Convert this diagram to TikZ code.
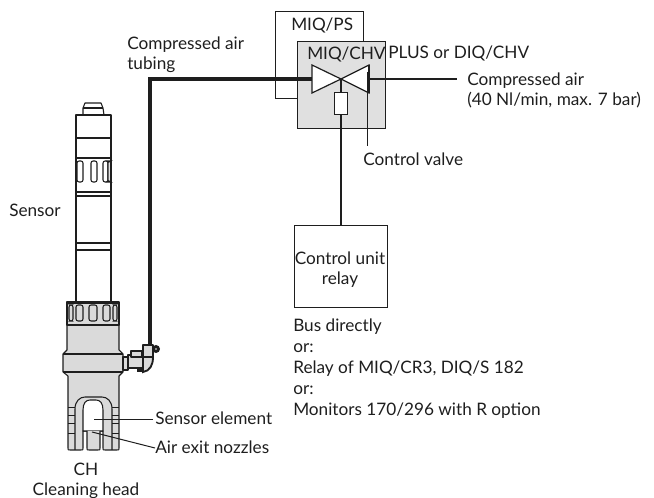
\documentclass[tikz,border=0pt]{standalone}
\usepackage{fontspec}
\setmainfont{Lato}
\definecolor{ink}{HTML}{1E1E1E}
\definecolor{boxgrey}{HTML}{E0E0E0}
\definecolor{bodygrey}{HTML}{DADADA}
\tikzset{
  lbl/.style={font=\fontsize{12.9pt}{15pt}\selectfont,text=ink,inner sep=0pt,align=left},
  wire/.style={draw=ink,line width=0.75pt},
  thickwire/.style={draw=ink,line width=3pt},
  midwire/.style={draw=ink,line width=1.5pt},
  boxline/.style={draw=ink,line width=0.9pt},
  sensorline/.style={draw=ink,line width=0.8pt,line join=round},
  heavy/.style={draw=ink,line width=1.2pt},
  slot/.style={draw=ink,line width=0.8pt,rounded corners=1.6pt,fill=white},
  stripe/.style={draw=ink,line width=0.7pt},
}
\begin{document}
\begin{tikzpicture}[x=0.75pt,y=-0.75pt]
\useasboundingbox (0,0) rectangle (654,498);
% ---------- Sensor ----------
\draw[sensorline] (83,108) -- (85,103) -- (101,103) -- (103,108) -- (104,115) -- (83,115) -- cycle;
\draw[sensorline] (83,108) -- (103,108);
\draw[sensorline] (76,115) rectangle (111,302);
\draw[heavy] (76,138) -- (111,138);
\draw[heavy] (76,158) -- (111,158);
\foreach \a/\b in {77/83,91/97,103/108,108/110.5}{\draw[slot] (\a,161) rectangle (\b,182);}
\draw[sensorline] (76,192) -- (111,192);
\draw[sensorline] (76,196) -- (111,196);
\draw[heavy] (76,243) -- (111,243);
\draw[heavy] (76,250) -- (111,250);
% lower body
\draw[sensorline,fill=bodygrey] (67,325) -- (119,325) -- (119,350) -- (123,354) -- (123,372) -- (119,376) -- (119,448) .. controls (119,450) .. (117,450) -- (105,450) .. controls (103,450) .. (103,448) -- (103,431) -- (83,431) -- (83,448) .. controls (83,450) .. (81,450) -- (70,450) .. controls (68,450) .. (68,448) -- (68,376) -- (63,372) -- (63,354) -- (67,350) -- cycle;
\draw[sensorline] (63,354) -- (123,354);
\draw[sensorline] (63,372) -- (123,372);
\draw[sensorline,fill=bodygrey] (67,302) rectangle (119,325);
\draw[heavy] (67,303) -- (119,303);
\draw[draw=ink,line width=1.6pt] (67,325) -- (119,325);
\foreach \a/\b in {69/73,76/83,89/97,103/110,113/117}{\draw[slot,fill=bodygrey] (\a,305) rectangle (\b,321);}
% cleaning head
\draw[sensorline] (75,450) -- (75,409) .. controls (75,401) and (80,397) .. (85,397) -- (102,397) .. controls (107,397) and (112,401) .. (112,409) -- (112,450);
\draw[sensorline,fill=white] (83,431) -- (83,410) .. controls (83,403) and (86,400) .. (90,400) -- (96,400) .. controls (100,400) and (103,403) .. (103,410) -- (103,431) -- cycle;
\draw[sensorline,fill=bodygrey] (87,431) -- (87,448) .. controls (87,450) .. (89,450) -- (98,450) .. controls (100,450) .. (100,448) -- (100,431);
\foreach \y in {407,415,423,433}{
  \draw[stripe] (68,\y) -- (75,\y);
  \draw[stripe] (112,\y) -- (119,\y);
}
% ---------- Fitting ----------
\draw[sensorline,fill=bodygrey] (123,357) rectangle (128,370);
\draw[sensorline,fill=bodygrey] (128,355) rectangle (143,368);
\draw[sensorline,fill=bodygrey] (131,351) rectangle (142,357);
\draw[sensorline,fill=bodygrey] (143,345) rectangle (153,357);
\draw[draw=ink,line width=1.4pt,fill=bodygrey] (143,357) -- (153,357) .. controls (153,365) and (150,371) .. (143,372) -- cycle;
\fill[ink] (137,368) rectangle (143,372);
\coordinate (fitting) at (150,345);
\fill[ink] (156,349) circle (3pt);
\fill[white] (156,349) circle (0.7pt);
% ---------- Boxes ----------
\node[boxline,minimum width=66pt,minimum height=65.25pt,inner sep=0pt,anchor=north west] (ps) at (275,11) {};
\node[boxline,fill=boxgrey,minimum width=66pt,minimum height=65.25pt,inner sep=0pt,anchor=north west] (chv) at (297,41) {};
\node[boxline,minimum width=69.75pt,minimum height=61.5pt,inner sep=0pt,anchor=north west] (unit) at (294,225) {};
\coordinate (vc) at (341,79);
\node[boxline,fill=white,minimum width=9.75pt,minimum height=16.5pt,inner sep=0pt,anchor=north] (solenoid) at (341,92) {};
% valve
\draw[boxline,fill=white,line join=miter] (312,65) -- (vc) -- (312,93) -- cycle;
\draw[boxline,fill=white,line join=miter] (369,65) -- (vc) -- (369,93) -- cycle;
\draw[midwire] (369,65) -- (369,93);
\coordinate (leftport) at (312,79);
\coordinate (rightport) at (369,79);
\coordinate (airend) at (457,79);
\coordinate (tubecorner) at (150,79);
% wires
\draw[thickwire,line join=miter] (fitting) -- (tubecorner) -- (leftport);
\draw[midwire] (rightport) -- (airend);
\draw[wire,line width=1pt] (vc) -- (solenoid.north);
\draw[wire,line width=1pt] (solenoid.south) -- (unit.north -| solenoid.south);
\coordinate (cvtop) at (367,72);
\coordinate (cvend) at (367,146);
\draw[wire] (cvtop) -- (cvend);
% ---------- Labels ----------
\node[lbl,anchor=north west] (t1) at (127,37) {Compressed air\\tubing};
\node[lbl,anchor=base west] (t3) at (291,31) {MIQ/PS};
\node[lbl,anchor=base west] (t4) at (307,60) {MIQ/CHV};
\node[lbl,anchor=base west] (t5) at (388,59) {PLUS or DIQ/CHV};
\node[lbl,anchor=north west] (t6) at (467,73) {Compressed air\\(40 Nl/min, max. 7 bar)};
\node[lbl,anchor=base west] (t8) at (363,166) {Control valve};
\node[lbl,anchor=base west] (t9) at (9,217) {Sensor};
\node[lbl,anchor=north,align=center] (t10) at (340,251.5) {Control unit\\relay};
\node[lbl,anchor=north west,font=\fontsize{12.9pt}{15.75pt}\selectfont] (t11) at (293,318.4) {Bus directly\\or:\\Relay of MIQ/CR3, DIQ/S 182\\or:\\Monitors 170/296 with R option};
\node[lbl,anchor=base west] (t12) at (155,425) {Sensor element};
\node[lbl,anchor=base west] (t13) at (155,454) {Air exit nozzles};
\node[lbl,anchor=north,align=center] (t14) at (86,463) {CH\\Cleaning head};
\coordinate (se) at (94,420);
\coordinate (an) at (92,432);
\coordinate (t12w) at (153,420);
\coordinate (t13w) at (155,448);
\draw[wire] (t12w) -- (se);
\draw[wire] (t13w) -- (an);
\end{tikzpicture}
\end{document}
